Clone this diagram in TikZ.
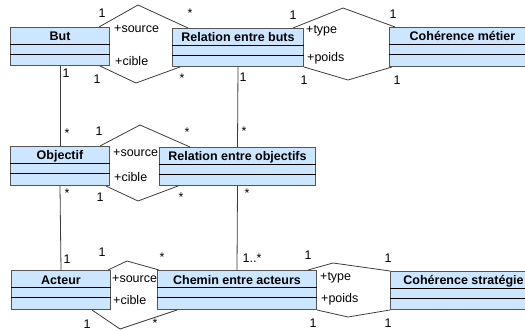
\documentclass[tikz,border=0pt]{standalone}
\usepackage{fontspec}
\setmainfont{Liberation Sans}
\definecolor{umlfill}{RGB}{204,230,255}
\definecolor{umlline}{RGB}{85,85,85}
\definecolor{assoc}{RGB}{60,60,60}
\newcommand{\umlclass}[6]{%
  \node[classbox, minimum width=#4pt, minimum height=#5pt] (#1) at (#2,#3) {};
  \draw[sepline] ([yshift=-17.5pt]#1.north west) -- ([yshift=-17.5pt]#1.north east);
  \draw[sepline] ([yshift=-27.5pt]#1.north west) -- ([yshift=-27.5pt]#1.north east);
  \node[ctitle] (#1t) at ([yshift=-14pt]#1.north) {#6};
}
\begin{document}
\begin{tikzpicture}[x=1pt,y=-1pt,
  classbox/.style={draw=umlline, fill=umlfill, line width=1pt, inner sep=0pt, anchor=north west},
  ctitle/.style={font=\fontsize{12.5}{14}\selectfont\bfseries, inner sep=0pt, anchor=base},
  sepline/.style={draw=black, line width=0.9pt},
  assocline/.style={draw=assoc, line width=0.8pt},
  lbl/.style={font=\fontsize{12.5}{14}\selectfont, inner sep=0pt, anchor=center},
  role/.style={font=\fontsize{12.5}{14}\selectfont, inner sep=0pt, anchor=base west}
]
\useasboundingbox (0,0) rectangle (525,331);

% classes
\umlclass{but}{10}{27}{99}{38}{But}
\umlclass{rb}{172}{28}{131}{38}{Relation entre buts}
\umlclass{cm}{389}{27}{146}{39}{Cohérence métier}
\umlclass{obj}{10}{146}{99}{39}{Objectif}
\umlclass{ro}{159}{147}{156}{38}{Relation entre objectifs}
\umlclass{act}{11}{270}{99}{39}{Acteur}
\umlclass{ch}{157}{270}{159}{39}{Chemin entre acteurs}
\umlclass{cs}{390}{271}{146}{38}{Cohérence stratégie}

% apex coordinates
\coordinate (a1t) at (138,5);   \coordinate (a1b) at (136,83);
\coordinate (a2t) at (343,8);   \coordinate (a2b) at (348,80);
\coordinate (a3t) at (140,125); \coordinate (a3b) at (138,201);
\coordinate (a4t) at (127,261); \coordinate (a4b) at (120,329);
\coordinate (a5t) at (333,263); \coordinate (a5b) at (348,317);

% association hexagons
\draw[assocline] ([xshift=-11pt]but.north east) -- (a1t) -- ([xshift=16pt]rb.north west);
\draw[assocline] ([xshift=-10pt]but.south east) -- (a1b) -- ([xshift=8pt]rb.south west);
\draw[assocline] ([xshift=-11pt]rb.north east) -- (a2t) -- ([xshift=6pt]cm.north west);
\draw[assocline] (rb.south east) -- (a2b) -- ([xshift=3pt]cm.south west);
\draw[assocline] ([xshift=-10pt]obj.north east) -- (a3t) -- ([xshift=31pt]ro.north west);
\draw[assocline] ([xshift=-4pt]obj.south east) -- (a3b) -- ([xshift=19pt]ro.south west);
\draw[assocline] ([xshift=-3pt]act.north east) -- (a4t) -- ([xshift=2pt]ch.north west);
\draw[assocline] ([xshift=-19pt]act.south east) -- (a4b) -- ([xshift=20pt]ch.south west);
\draw[assocline] ([xshift=-9pt]ch.north east) -- (a5t) -- (cs.north west);
\draw[assocline] (ch.south east) -- (a5b) -- (cs.south west);

% vertical associations
\draw[assocline] (but.south) -- (obj.north);
\draw[assocline] (obj.south) -- (act.north);
\draw[assocline] (rb.south) -- (ro.north);
\draw[assocline] (ro.south) -- (ch.north);

% labels: but - rb
\node[lbl] (l1) at (102,13) {1};
\node[lbl] (l2) at (190,13) {*};
\node[role] (l3) at (114,33) {+source};
\node[role] (l4) at (115,66) {+cible};
\node[lbl] (l5) at (97,79) {1};
\node[lbl] (l6) at (182,78) {*};
% rb - cm
\node[lbl] (l7) at (293,15) {1};
\node[role] (l8) at (306,34) {+type};
\node[role] (l9) at (307,62) {+poids};
\node[lbl] (l10) at (304,80) {1};
\node[lbl] (l11) at (393,14) {1};
\node[lbl] (l12) at (397,80) {1};
% verticals
\node[lbl] (l13) at (66,73) {1};
\node[lbl] (l14) at (67,133) {*};
\node[lbl] (l15) at (243,77) {1};
\node[lbl] (l16) at (244,131) {*};
\node[lbl] (l17) at (67,193) {*};
\node[lbl] (l18) at (67,259) {1};
\node[lbl] (l19) at (247,193) {*};
\node[lbl] (l20) at (252,258) {1..*};
% obj - ro
\node[lbl] (l21) at (99,131) {1};
\node[role] (l22) at (113,157) {+source};
\node[role] (l23) at (114,182) {+cible};
\node[lbl] (l24) at (100,197) {1};
\node[lbl] (l25) at (187,132) {*};
\node[lbl] (l26) at (181,197) {*};
% act - ch
\node[lbl] (l27) at (102,252) {1};
\node[lbl] (l28) at (162,257) {*};
\node[role] (l29) at (112,283) {+source};
\node[role] (l30) at (113,305) {+cible};
\node[lbl] (l31) at (87,324) {1};
\node[lbl] (l32) at (155,323) {*};
% ch - cs
\node[lbl] (l33) at (308,255) {1};
\node[role] (l34) at (320,280) {+type};
\node[role] (l35) at (321,302) {+poids};
\node[lbl] (l36) at (313,323) {1};
\node[lbl] (l37) at (388,258) {1};
\node[lbl] (l38) at (388,323) {1};
\end{tikzpicture}
\end{document}
